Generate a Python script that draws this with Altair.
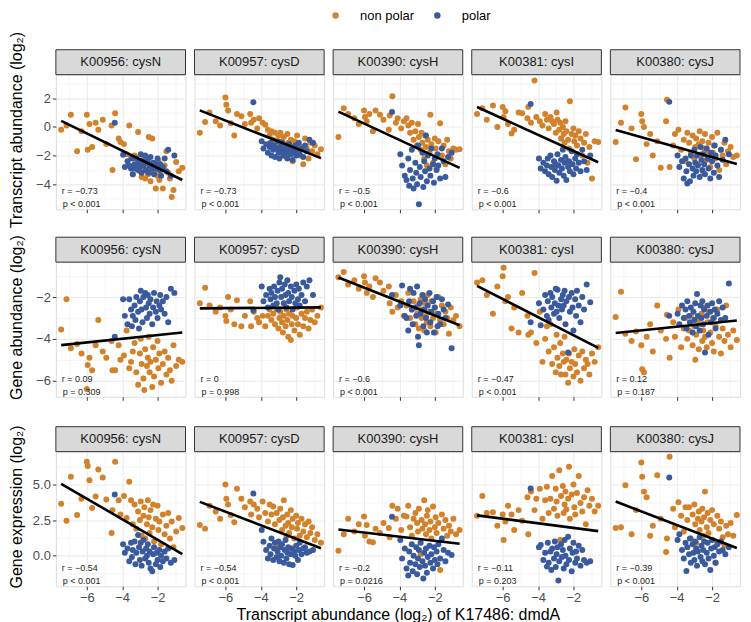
import altair as alt
import pandas as pd

FONT = "Liberation Sans"
ORANGE = "#D2822B"
BLUE = "#3A5A9E"

genes = ["K00956: cysN", "K00957: cysD", "K00390: cysH", "K00381: cysI", "K00380: cysJ"]
measures = ["Transcript abundance (log₂)", "Gene abundance (log₂)", "Gene expression (log₂)"]
x_title = "Transcript abundance (log₂) of K17486: dmdA"
groups = ["non polar", "polar"]

# shared x: dmdA transcript abundance per sample
np_x = [-7.45, -7.15, -6.9, -6.55, -6.3, -6.0, -5.95, -5.85, -5.7, -5.5, -5.35, -5.1, -4.9, -4.6, -4.55,
        -4.4, -4.2, -4.1, -3.9, -3.75, -3.6, -3.5, -3.4,
        -3.3, -3.2, -3.1, -3.0, -2.95, -2.9, -2.8, -2.75, -2.7, -2.6, -2.55, -2.5, -2.45, -2.4, -2.3, -2.25,
        -2.2, -2.1, -2.0, -1.95, -1.9, -1.8, -1.7, -1.6, -1.5, -1.4, -1.3, -1.2, -1.1, -0.95, -0.8, -0.6]
p_x = [-4.42, -3.95, -3.85, -3.7, -3.6, -3.5, -3.45, -3.4, -3.3, -3.25,
       -3.2, -3.1, -3.05, -3.0, -2.95, -2.9, -2.85, -2.8, -2.7, -2.65,
       -2.6, -2.55, -2.5, -2.45, -2.4, -2.3, -2.25, -2.2, -2.1, -2.05,
       -2.0, -1.9, -1.85, -1.8, -1.7, -1.6, -1.5, -1.4, -1.25, -1.05]

# Row 1: transcript abundance
t_cysN_np = [-0.2, 0.1, 0.85, -1.7, -0.3, 0.85, -1.6, 0.2, -1.4, 0.3, -0.2, 0.5, -1.2, 0.1, -3.0,
             0.95, -0.8, -1.05, -1.2, -1.9, 0.1, -2.1, -3.3,
             -2.0, -2.6, -0.35, -3.1, -2.4, -3.5, -2.2, -3.0, -3.6, -2.4, -3.3, -0.7, -2.8, -3.8, -0.8, -2.6,
             -3.2, -4.3, -3.4, -2.4, -3.7, -3.0, -4.3, -2.7, -1.7, -3.2, -3.6, -4.9, -4.4, -2.45, -3.1, -2.85]
t_cysN_p = [0.3, -1.95, -2.8, -2.4, -2.7, -2.9, -2.2, -3.3, -2.6, -2.9, -2.2, -3.0, -2.5, -2.8, -1.9, -3.2, -2.4, -2.7, -2.0, -3.0,
            -2.5, -2.3, -3.2, -2.7, -2.1, -2.9, -2.5, -3.3, -2.6, -2.9, -2.2, -3.0, -2.6, -3.4, -2.8, -2.2, -3.1, -1.6, -3.4, -2.0]
t_cysD_np = [-0.4, 0.35, 1.0, 0.4, 0.1, 2.05, 1.55, 1.15, 0.25, -0.6, 0.9, 0.75, 0.2, 0.9, 0.3,
             0.5, -0.1, 0.6, 0.3, 0.15, -0.2, -0.6, -0.3,
             -0.9, -0.4, -1.2, -0.6, -1.6, -0.4, -1.0, -1.9, -0.7, -1.3, -2.1, -0.5, -1.1, -1.6, -0.9, -1.4,
             -2.4, -1.0, -1.7, -0.6, -1.2, -2.0, -1.4, -2.6, -0.8, -1.5, -2.2, -1.1, -1.7, -1.3, -1.9, -1.55]
t_cysD_p = [1.72, -1.0, -1.5, -1.2, -1.8, -1.4, -1.1, -2.0, -1.6, -1.3, -2.1, -1.5, -1.0, -1.8, -2.2, -1.4, -1.7, -1.1, -2.0, -1.5,
            -1.8, -1.3, -2.2, -1.6, -1.2, -1.9, -1.5, -2.3, -1.7, -1.3, -2.0, -1.6, -1.1, -1.9, -1.5, -2.1, -1.3, -1.7, -0.9, -1.1]
t_cysH_np = [-0.7, 1.3, 0.9, 0.6, 0.2, 1.15, 0.7, 0.4, 0.9, -0.3, 1.15, 0.85, 0.5, -0.2, 0.8,
             2.15, 0.3, 0.6, -0.1, 0.4, 0.6, 0.1, -0.4,
             0.3, -0.9, -0.3, -1.3, 0.2, -0.7, -1.6, -0.4, -1.1, -2.2, -0.6, -1.4, -2.7, -0.9, -1.8, 0.85,
             -1.2, -2.5, -0.8, -1.5, -2.9, -1.0, 0.25, -2.0, -1.3, -2.6, -0.9, -1.7, -2.2, -1.5, -1.6, -1.55]
t_cysH_p = [1.05, -1.9, -2.7, -3.4, -3.7, -2.2, -4.1, -3.0, -1.6, -3.6, -4.3, -2.5, -3.2, -4.0, -1.3, -5.4, -2.8, -3.5, -1.8, -4.2,
            -2.4, -3.1, -0.6, -3.8, -2.0, -2.9, -3.4, -1.5, -2.6, -3.9, -2.2, -3.0, -1.9, -2.7, -3.6, -1.5, -2.4, -3.5, -2.1, -1.8]
t_cysI_np = [0.9, 1.3, 0.5, 1.5, 0.0, 1.4, 0.7, 1.1, 0.2, -0.45, -0.2, 1.0, 0.95, 0.6, 1.4,
             0.3, 3.25, 0.7, 0.4, 0.1, 0.9, 0.5, -0.1,
             0.7, 0.4, 0.2, -0.4, 1.0, 0.5, -0.2, 0.3, -0.8, 0.0, -0.5, -1.1, 0.4, -0.3, -0.9, -1.5,
             1.8, -0.5, -0.1, -1.0, -0.6, -1.3, -0.3, -0.8, -2.0, -1.1, -0.5, -2.5, -1.4, -3.6, -1.0, -1.05]
t_cysI_p = [1.6, -2.2, -2.9, -2.5, -3.1, -2.7, -2.2, -3.3, -2.0, -2.8, -3.5, -2.4, -3.0, -2.6, -3.75, -1.9, -2.7, -3.2, -2.3, -2.9,
            -1.6, -3.4, -2.5, -2.1, -3.7, -2.8, -2.4, -3.1, -1.7, -2.6, -3.3, -2.2, -2.9, -1.9, -2.5, -3.1, -1.6, -2.4, -3.0, -2.0]
t_cysJ_np = [-1.05, 0.3, 1.35, -0.1, -2.25, 0.9, 0.4, 0.0, -1.2, -0.5, -2.0, -1.0, -2.85, 0.4, 1.9,
             -2.8, -1.3, -0.5, -0.2, -1.6, -0.9, -2.4, -0.4,
             -1.1, -1.8, -0.6, -2.2, -1.4, -0.8, -2.6, -1.2, -0.3, -1.9, -1.0, -3.2, -1.5, -0.5, -2.3, -1.7,
             -1.1, -2.8, -0.7, -1.8, -1.3, -2.2, -0.4, -3.0, -1.6, -2.0, -1.1, -2.6, -1.7, -1.4, -2.1, -2.0]
t_cysJ_p = [1.75, -2.0, -2.8, -2.4, -3.6, -2.2, -3.1, -3.95, -2.6, -3.8, -2.0, -2.9, -3.4, -1.6, -2.5, -3.1, -2.0, -2.7, -3.5, -1.4,
            -2.3, -3.0, -1.9, -2.6, -3.3, -1.5, -2.2, -2.9, -3.6, -1.8, -2.4, -3.2, -1.3, -2.0, -2.7, -3.5, -1.6, -2.3, -0.9, -1.9]

# Row 2: gene abundance
g_cysN_np = [-3.55, -2.1, -4.45, -4.25, -4.7, -6.4, -5.25, -4.9, -5.5, -4.3, -3.1, -4.6, -4.9, -4.1, -5.5,
             -5.5, -4.3, -5.0, -4.8, -3.6, -5.4, -5.1, -4.6,
             -4.2, -5.6, -6.2, -4.7, -4.0, -5.2, -5.9, -6.45, -4.5, -5.3, -4.9, -3.9, -5.6, -5.1, -6.3, -4.4,
             -5.8, -5.0, -4.1, -5.4, -4.7, -6.1, -5.2, -4.6, -5.7, -4.9, -5.5, -6.0, -4.3, -5.3, -5.0, -5.1]
g_cysN_p = [-3.9, -2.1, -2.9, -3.3, -2.1, -2.6, -3.4, -2.9, -2.4, -3.1, -2.0, -2.7, -3.5, -2.2, -1.7, -2.6, -3.2, -2.0, -1.8, -2.5,
            -3.0, -1.9, -2.3, -2.8, -2.1, -3.3, -2.5, -1.8, -2.7, -2.2, -3.0, -2.4, -1.9, -2.6, -2.2, -2.8, -2.0, -3.2, -1.6, -1.8]
g_cysD_np = [-2.3, -1.55, -2.4, -2.7, -2.5, -2.9, -3.15, -2.0, -2.6, -3.3, -2.15, -3.4, -2.9, -2.2, -3.4,
             -2.7, -3.0, -3.2, -2.9, -3.4, -2.9, -2.6, -3.1,
             -2.8, -3.3, -2.6, -3.5, -3.0, -2.7, -3.2, -3.7, -2.9, -3.4, -2.6, -3.1, -3.9, -2.8, -4.05, -3.3,
             -2.9, -3.6, -3.0, -2.5, -3.3, -3.8, -2.8, -3.4, -3.0, -2.7, -3.5, -3.1, -2.6, -3.2, -2.9, -2.5]
g_cysD_p = [-2.63, -1.5, -2.2, -1.9, -2.5, -1.6, -2.1, -1.8, -2.4, -1.5, -2.0, -2.3, -1.7, -2.6, -1.3, -1.05, -2.0, -1.6, -2.3, -1.4,
            -1.9, -2.5, -1.2, -1.8, -2.2, -1.5, -2.0, -2.6, -1.7, -2.3, -1.4, -2.1, -1.6, -2.4, -1.9, -1.3, -2.2, -1.5, -1.2, -1.9]
g_cysH_np = [-1.05, -0.8, -1.4, -1.2, -1.6, -1.0, -1.3, -1.8, -1.5, -2.0, -1.1, -1.3, -1.7, -1.5, -2.3,
             -2.7, -1.9, -2.5, -2.2, -2.9, -2.4, -1.8, -3.0,
             -2.6, -2.2, -3.3, -2.8, -2.4, -3.5, -2.1, -3.0, -2.6, -3.6, -2.3, -2.9, -3.2, -1.9, -2.7, -3.4,
             -2.2, -3.0, -2.5, -3.7, -2.8, -2.0, -3.1, -2.4, -3.3, -2.7, -3.0, -3.75, -2.5, -3.1, -2.9, -3.4]
g_cysH_p = [-1.9, -2.4, -1.45, -2.9, -3.0, -3.6, -2.2, -1.6, -2.6, -3.3, -1.8, -2.5, -2.9, -1.5, -3.9, -4.3, -2.3, -2.8, -1.9, -3.4,
            -2.6, -2.1, -3.0, -3.7, -2.4, -1.8, -3.2, -2.7, -2.2, -3.7, -2.5, -2.0, -3.4, -2.8, -3.3, -2.1, -2.6, -3.0, -2.35, -4.45]
g_cysI_np = [-1.3, -1.2, -1.9, -2.8, -1.5, -1.0, -0.6, -2.2, -2.0, -3.5, -2.5, -3.7, -1.8, -2.9, -3.8,
             -3.7, -0.85, -4.2, -2.7, -5.1, -4.0, -3.4, -4.6,
             -3.3, -5.2, -4.4, -5.6, -3.8, -4.9, -5.3, -4.2, -5.7, -4.7, -5.1, -3.9,
             -5.7, -5.0, -6.1, -4.7, -5.4, -5.1, -5.8, -4.5, -5.2, -5.6, -4.8, -6.0, -4.6, -5.4, -5.0, -5.2, -5.7, -4.7, -5.1, -4.4]
g_cysI_p = [-3.2, -2.3, -3.35, -2.6, -1.9, -2.9, -2.2, -3.1, -1.8, -2.5, -2.0, -2.8, -2.3, -1.6, -2.7, -1.65, -2.4, -3.0, -2.1, -2.6,
            -1.9, -2.4, -1.7, -3.3, -2.2, -4.65, -2.0, -2.7, -1.8, -2.5, -3.6, -2.1, -2.9, -1.7, -2.4, -3.2, -2.0, -2.6, -1.4, -2.25]
g_cysJ_np = [-2.95, -1.75, -3.75, -4.1, -3.65, -4.3, -5.45, -5.6, -3.9, -3.3, -4.6, -2.4, -3.6, -4.0, -2.85,
             -4.9, -3.2, -3.9, -2.6, -4.4, -3.5, -3.0, -4.0,
             -3.6, -2.9, -4.3, -3.4, -5.0, -3.8, -3.1, -4.5, -3.3, -2.8, -4.1, -3.6, -2.5, -3.9, -4.4, -3.2,
             -2.7, -3.7, -4.2, -3.0, -4.6, -3.4, -2.6, -3.9, -4.7, -3.5, -4.1, -2.4, -3.8, -4.4, -3.6, -4.05]
g_cysJ_p = [-2.9, -2.8, -3.3, -2.4, -3.0, -2.6, -3.5, -2.2, -2.9, -3.2, -2.5, -3.7, -2.7, -3.1, -2.3, -3.4, -1.85, -2.9, -3.6, -2.4,
            -3.0, -2.2, -3.3, -2.6, -4.65, -2.9, -2.4, -3.8, -2.7, -3.2, -2.3, -3.0, -2.6, -3.5, -2.8, -2.2, -3.1, -2.5, -3.0, -1.35]

# Row 3: gene expression
e_cysN_np = [3.65, 2.45, 5.55, 2.85, 4.0, 6.6, 6.3, 5.3, 3.35, 4.15, 6.05, 5.5, 3.95, 1.6, 3.2,
             6.6, 3.9, 2.9, 4.2, 2.65, 5.2, 3.9, 2.2,
             3.6, 1.9, 3.1, 2.5, 3.8, 1.4, 2.8, 3.4, 1.2, 2.2, 3.9, 2.7, 1.6, 3.2, 2.0, 3.6,
             1.0, 2.6, 3.5, 1.8, 2.4, 0.8, 2.9, 1.5, 2.1, 3.0, 1.2, 2.4, 0.6, 1.7, 2.65, 1.95]
e_cysN_p = [4.3, 0.8, 0.2, 0.5, -0.4, 0.9, -0.1, 0.4, 1.0, -0.6, 0.2, 1.45, 0.6, -0.3, 0.9, -0.7, 0.3, 1.1, -0.2, 0.5,
            0.0, 0.8, -0.5, 0.3, -0.9, -1.1, 0.1, 0.6, -0.6, 0.2, -0.3, 0.4, -0.8, 0.0, -0.4, 0.3, -0.2, 0.5, -0.5, -0.3]
e_cysD_np = [2.15, 1.9, 3.5, 3.1, 2.6, 5.0, 4.0, 3.6, 2.85, 2.35, 4.7, 4.0, 3.4, 3.8, 2.9,
             3.6, 3.3, 2.7, 3.8, 3.0, 2.4, 3.6, 2.9,
             3.45, 2.2, 3.0, 0.65, 2.5, 3.3, 1.8, 2.7, 3.9, 2.1, 1.4, 2.9, 2.3, 1.6, 3.2, 2.0,
             2.6, 1.2, 2.8, 1.9, 2.3, 1.4, 2.6, 1.7, 2.2, 1.3, 2.4, 1.6, 2.0, 1.1, 1.5, 0.9]
e_cysD_p = [4.37, 1.8, 0.98, 0.4, -0.2, 0.7, 0.1, 1.2, -0.3, 0.5, 0.9, -0.1, 0.3, 1.0, -0.4, 0.6, 0.0, 0.8, -0.5, 0.4,
            1.1, -0.2, 0.2, 0.6, -0.6, 0.1, 0.5, -0.65, 0.3, 0.0, 0.7, -0.3, 0.4, 0.9, 0.1, 0.5, 0.6, 0.2, 0.3, 0.4]
e_cysH_np = [0.35, 1.5, 2.6, 1.7, 2.2, 2.75, 1.4, 2.15, 1.0, 0.95, 1.9, 1.6, 2.3, 1.95, 1.3,
             3.5, 2.6, 3.3, 1.8, 2.8, 2.75, 3.5, 2.0,
             1.4, 2.6, 3.0, 2.3, 1.7, 3.3, 0.1, 2.5, 1.9, 3.9, 2.2, 1.5, 2.8, 3.2, 1.8, 2.4,
             1.2, 3.45, 2.0, 2.7, 1.6, 2.3, -1.0, 2.9, 1.9, 2.5, 1.4, 2.1, 1.7, 2.6, 1.5, 1.8]
e_cysH_p = [2.74, 1.1, -0.2, 0.5, -0.9, -1.4, 0.3, -0.5, 0.8, -1.1, 0.0, -0.6, 0.6, -1.3, -0.2, 0.4, -0.8, 0.9, -0.4, -1.6,
            0.2, -0.7, 0.5, -1.2, -0.1, 0.7, -0.5, 0.1, -0.9, 0.6, -0.3, 0.3, -0.6, 0.8, -0.2, 1.2, 0.4, -0.4, 0.2, 0.05]
e_cysI_np = [2.8, 4.2, 3.0, 3.05, 2.1, 2.9, 1.1, 2.4, 3.5, 2.9, 1.8, 3.2, 2.45, 4.1, 1.5,
             4.5, 3.2, 4.0, 4.7, 2.6, 3.9, 4.85, 3.0,
             4.0, 5.6, 3.3, 4.7, 3.8, 2.8, 6.0, 1.1, 4.2, 4.9, 3.0, 3.6, 4.5, 3.25, 4.0, 6.25,
             2.6, 4.3, 5.0, 3.4, 2.9, 4.4, 5.6, 3.7, 3.1, 4.1, 2.2, 4.6, 3.5, 4.0, 3.1, 3.5]
e_cysI_p = [4.72, 0.6, 0.75, -0.3, 0.2, -0.77, 0.9, -0.5, 0.3, -1.0, 0.5, -0.2, 1.0, -0.8, 0.1, 0.6, -1.75, -0.4, 0.8, -0.1,
            0.4, -0.9, 1.1, 0.0, -0.6, 1.33, -0.3, 0.5, -1.1, 0.2, 0.9, -0.5, 0.3, -0.2, 0.7, -0.7, 0.4, -0.3, -0.5, -0.4]
e_cysJ_np = [1.95, 2.0, 4.95, 1.5, 3.2, 6.55, 5.55, 4.5, 4.1, 1.4, 2.1, 5.65, 2.6, 0.25, 1.2,
             6.95, 3.3, 2.0, 3.75, 2.8, 1.7, 3.4, 2.5,
             3.4, 1.2, 2.9, 3.6, 2.2, 0.9, 2.6, 3.1, 1.8, 2.4, 3.3, 1.4, 2.7, 4.5, 2.0, 3.0,
             1.6, 2.5, 3.2, 1.1, 2.2, -0.5, 2.8, 1.9, 2.4, 1.3, 0.75, 2.1, 1.5, 2.3, 1.4, 2.85]
e_cysJ_p = [5.5, 1.1, 1.5, 0.4, -0.2, 0.9, -1.07, 0.6, 0.1, 1.2, -0.5, 0.8, 0.2, -0.3, 1.0, 0.5, -0.7, 0.3, 1.3, -0.1,
            0.7, -0.4, 0.4, 1.0, -0.6, 0.2, 0.9, -0.2, -1.0, 0.5, 1.1, 0.0, 0.6, -0.5, 0.8, 0.3, 1.0, 0.4, 0.1, 0.6]

series = [
    [(t_cysN_np, t_cysN_p), (t_cysD_np, t_cysD_p), (t_cysH_np, t_cysH_p), (t_cysI_np, t_cysI_p), (t_cysJ_np, t_cysJ_p)],
    [(g_cysN_np, g_cysN_p), (g_cysD_np, g_cysD_p), (g_cysH_np, g_cysH_p), (g_cysI_np, g_cysI_p), (g_cysJ_np, g_cysJ_p)],
    [(e_cysN_np, e_cysN_p), (e_cysD_np, e_cysD_p), (e_cysH_np, e_cysH_p), (e_cysI_np, e_cysI_p), (e_cysJ_np, e_cysJ_p)],
]

r_labels = [["r = −0.73", "r = −0.73", "r = −0.5", "r = −0.6", "r = −0.4"],
            ["r = 0.09", "r = 0", "r = −0.6", "r = −0.47", "r = 0.12"],
            ["r = −0.54", "r = −0.54", "r = −0.2", "r = −0.11", "r = −0.39"]]
p_labels = [["p < 0.001"] * 5,
            ["p = 0.309", "p = 0.998", "p < 0.001", "p < 0.001", "p = 0.187"],
            ["p < 0.001", "p < 0.001", "p = 0.0216", "p = 0.203", "p < 0.001"]]

x_domain = [-7.75, -0.42]
x_ticks = [-7, -6, -5, -4, -3, -2, -1]
row_domains = [[-5.75, 3.65], [-6.77, -0.33], [-2.15, 7.31]]
row_ticks = [[-5, -4, -3, -2, -1, 0, 1, 2, 3], [-6, -5, -4, -3, -2, -1], [-1.25, 0, 1.25, 2.5, 3.75, 5, 6.25]]
row_major = ["datum.value % 2 == 0", "datum.value % 2 == 0", "datum.value % 2.5 == 0"]
row_fmt = ["d", "d", ".1f"]

W, H, STRIP = 130, 135, 25

for row in series:
    for a, b in row:
        assert len(a) == len(np_x) and len(b) == len(p_x), (len(a), len(b))

legend = alt.Legend(orient="none", legendX=274, legendY=-66, direction="horizontal", title=None, padding=0,
                    labelFontSize=13, labelFont=FONT, labelColor="#000000", symbolType="circle",
                    symbolSize=42, symbolStrokeWidth=0, symbolOpacity=1, labelOffset=18, columnPadding=16)
color_scale = alt.Scale(domain=groups, range=[ORANGE, BLUE])


def cond(test, a, b):
    return {"condition": {"test": test, "value": a}, "value": b}


def panel(ri, ci):
    y_np, y_p = series[ri][ci]
    df = pd.DataFrame({
        "x": np_x + p_x,
        "y": y_np + y_p,
        "group": [groups[0]] * len(np_x) + [groups[1]] * len(p_x),
    })
    first_col = ci == 0
    last_row = ri == 2
    ymaj = row_major[ri]
    xmaj = "datum.value % 2 == 0"
    yaxis = alt.Axis(values=row_ticks[ri], format=row_fmt[ri], labelExpr=f"{ymaj} ? datum.label : ''",
                     labels=first_col, ticks=first_col, domain=False, grid=True, gridColor="#EBEBEB",
                     gridWidth=cond(ymaj, 1.1, 0.55), tickOpacity=cond(ymaj, 1, 0),
                     tickColor="#333333", tickSize=3.5, tickWidth=1,
                     labelFontSize=13, labelFont=FONT, labelColor="#4D4D4D", labelPadding=2,
                     title=measures[ri] if first_col else None, titleFontSize=16, titleFont=FONT,
                     titleFontWeight="normal", titleColor="#000000", titleX=-31, titleY=(H - STRIP) / 2,
                     titleBaseline="bottom", titleAngle=270)
    xaxis = alt.Axis(values=x_ticks, format="d", labelExpr=f"{xmaj} ? datum.label : ''",
                     labels=last_row, ticks=True, domain=False, grid=True, gridColor="#EBEBEB",
                     gridWidth=cond(xmaj, 1.1, 0.55), tickOpacity=cond(xmaj, 1, 0),
                     tickColor="#333333", tickSize=3.5, tickWidth=1,
                     labelFontSize=13, labelFont=FONT, labelColor="#4D4D4D", labelPadding=2,
                     title=x_title if (last_row and ci == 2) else None, titleFontSize=16, titleFont=FONT,
                     titleFontWeight="normal", titleColor="#000000", titlePadding=2)
    xs = alt.Scale(domain=x_domain, nice=False, zero=False)
    ys = alt.Scale(domain=row_domains[ri], nice=False, zero=False)
    enc_x = alt.X("x:Q", scale=xs, axis=xaxis)
    enc_y = alt.Y("y:Q", scale=ys, axis=yaxis)
    base = alt.Chart(df)
    pts = base.mark_circle(size=36, opacity=1).encode(
        x=enc_x, y=enc_y, color=alt.Color("group:N", scale=color_scale, legend=legend))
    line = base.transform_regression("x", "y").mark_line(color="black", strokeWidth=2.6).encode(x=enc_x, y=enc_y)
    lab = pd.DataFrame({"label": [genes[ci]], "r": [r_labels[ri][ci]], "p": [p_labels[ri][ci]]})
    lbase = alt.Chart(lab)
    strip = lbase.mark_rect(fill="#D9D9D9", stroke="#333333", strokeWidth=1).encode(
        x=alt.value(0), x2=alt.value(W), y=alt.value(-STRIP), y2=alt.value(0))
    strip_txt = lbase.mark_text(fontSize=13, font=FONT, color="#1A1A1A", baseline="middle").encode(
        x=alt.value(W / 2), y=alt.value(-STRIP / 2), text="label:N")
    r_txt = lbase.mark_text(fontSize=9, font=FONT, color="#222222", align="left", baseline="middle").encode(
        x=alt.value(6), y=alt.value(H - 18), text="r:N")
    p_txt = lbase.mark_text(fontSize=9, font=FONT, color="#222222", align="left", baseline="middle").encode(
        x=alt.value(7), y=alt.value(H - 5), text="p:N")
    return alt.layer(pts, line, strip, strip_txt, r_txt, p_txt).properties(width=W, height=H)


rows = [alt.hconcat(*[panel(ri, ci) for ci in range(5)], spacing=9, bounds="flush") for ri in range(3)]
lower = alt.vconcat(rows[1], rows[2], spacing=22, bounds="full")
chart = alt.vconcat(rows[0], lower, spacing=5, bounds="full", padding=0).configure_view(
    stroke="#333333", strokeWidth=1).configure(background="white")

chart.save("out.html", embed_options={"renderer": "svg", "actions": False})
